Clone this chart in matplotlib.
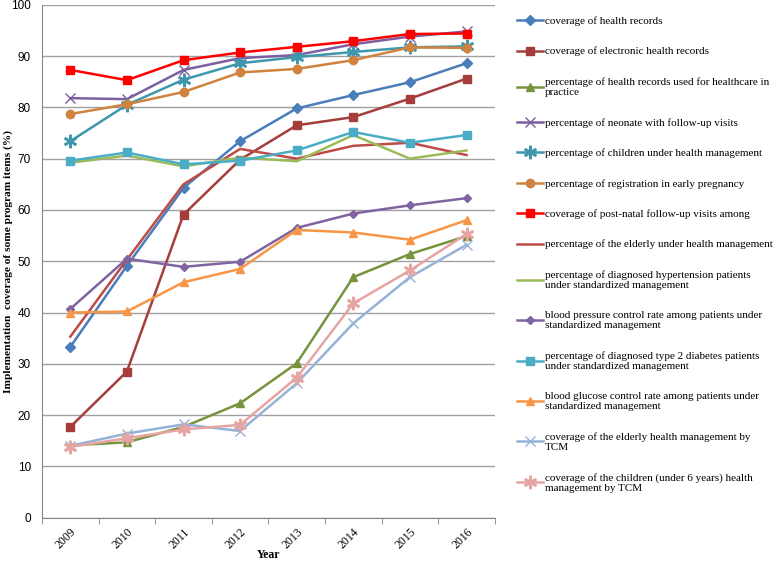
import matplotlib
matplotlib.use('Agg')
import matplotlib.pyplot as plt

plt.rcParams['font.family'] = ['Liberation Serif', 'DejaVu Serif']

years = ['2009', '2010', '2011', '2012', '2013', '2014', '2015', '2016']

# values (%)
health_records = [33.3, 49.1, 64.3, 73.4, 79.8, 82.4, 84.9, 88.6]
electronic_records = [17.7, 28.5, 59.1, 69.8, 76.5, 78.1, 81.7, 85.6]
records_used = [14.1, 14.7, 17.7, 22.3, 30.1, 46.9, 51.4, 54.9]
neonate_visits = [81.8, 81.6, 87.3, 89.6, 90.2, 92.3, 93.8, 94.8]
children_mgmt = [73.4, 80.5, 85.4, 88.6, 89.8, 90.8, 91.7, 91.9]
early_pregnancy = [78.7, 80.6, 83.0, 86.8, 87.5, 89.2, 91.7, 91.6]
postnatal_visits = [87.3, 85.3, 89.2, 90.7, 91.8, 92.9, 94.3, 94.4]
elderly_mgmt = [35.3, 50.3, 65.0, 71.9, 70.0, 72.5, 73.1, 70.7]
hypertension_mgmt = [69.2, 70.6, 68.5, 70.2, 69.5, 74.6, 70.0, 71.6]
bp_control = [40.7, 50.5, 48.9, 49.9, 56.5, 59.3, 60.9, 62.3]
diabetes_mgmt = [69.6, 71.2, 68.9, 69.6, 71.6, 75.2, 73.1, 74.6]
glucose_control = [40.0, 40.2, 45.9, 48.5, 56.1, 55.6, 54.2, 58.0]
elderly_tcm = [14.0, 16.4, 18.2, 16.9, 26.2, 37.9, 46.9, 53.2]
children_tcm = [13.8, 15.5, 17.2, 18.1, 27.3, 41.8, 48.2, 55.3]

series = [
    ('coverage of health records', health_records, '#4A7EBB', 'D', 5),
    ('coverage of electronic health records', electronic_records, '#A53E3B', 's', 6),
    ('percentage of health records used for healthcare in\npractice', records_used, '#77933C', '^', 6),
    ('percentage of neonate with follow-up visits', neonate_visits, '#7D5FA0', 'x', 7),
    ('percentage of children under health management', children_mgmt, '#3F97AE', '$\u2217$', 9),
    ('percentage of registration in early pregnancy', early_pregnancy, '#D0823F', 'o', 6),
    ('coverage of post-natal follow-up visits among', postnatal_visits, '#FF0000', 's', 6),
    ('percentage of the elderly under health management', elderly_mgmt, '#BE4B48', None, 0),
    ('percentage of diagnosed hypertension patients\nunder standardized management', hypertension_mgmt, '#9BBB59', None, 0),
    ('blood pressure control rate among patients under\nstandardized management', bp_control, '#8064A2', 'D', 4),
    ('percentage of diagnosed type 2 diabetes patients\nunder standardized management', diabetes_mgmt, '#4BACC6', 's', 6),
    ('blood glucose control rate among patients under\nstandardized management', glucose_control, '#F79646', '^', 6),
    ('coverage of the elderly health management by\nTCM', elderly_tcm, '#95B3D7', 'x', 7),
    ('coverage of the children (under 6 years) health\nmanagement by TCM', children_tcm, '#E6A5A3', '$\u2217$', 9),
]

fig = plt.figure(figsize=(7.78, 5.63), dpi=100)
ax = fig.add_axes([0.054, 0.0805, 0.582, 0.911])

x = list(range(len(years)))
handles = []
for label, vals, color, marker, ms in series:
    h, = ax.plot(x, vals, color=color, linewidth=1.8, marker=marker,
                 markersize=ms, markeredgecolor=color, markerfacecolor=color,
                 label=label)
    handles.append(h)

ax.set_xlim(-0.5, len(years) - 0.5)
ax.set_ylim(0, 100)
ax.set_yticks(range(0, 101, 10))
ax.yaxis.grid(True, color='#A0A0A0', linewidth=1)
ax.set_axisbelow(True)
ax.tick_params(axis='y', length=0, labelsize=8.5, pad=8)
for t in ax.get_yticklabels():
    t.set_fontfamily('Liberation Sans')

ax.set_xticks(x)
ax.set_xticklabels(years, rotation=45, ha='right', va='top',
                   rotation_mode='anchor', fontsize=8.5)
ax.set_xticks([i - 0.5 for i in range(len(years) + 1)], minor=True)
ax.tick_params(axis='x', which='major', length=0, pad=6)
ax.tick_params(axis='x', which='minor', length=4, color='#868686')

for side in ['top', 'right']:
    ax.spines[side].set_visible(False)
for side in ['left', 'bottom']:
    ax.spines[side].set_color('#868686')

ax.set_xlabel('Year', fontsize=8.5, fontweight='bold')
ax.xaxis.set_label_coords(0.5, -0.062)
ax.set_ylabel('Implementation  coverage of some program items (%)',
              fontsize=8.2, fontweight='bold')
ax.yaxis.set_label_coords(-0.065, 0.5)

fig.legend(handles=handles, loc='upper left', bbox_to_anchor=(0.659, 0.979),
           frameon=False, fontsize=8, handlelength=2.3, handletextpad=0.2,
           labelspacing=1.86, borderaxespad=0)

fig.savefig('out.png', dpi=100)
